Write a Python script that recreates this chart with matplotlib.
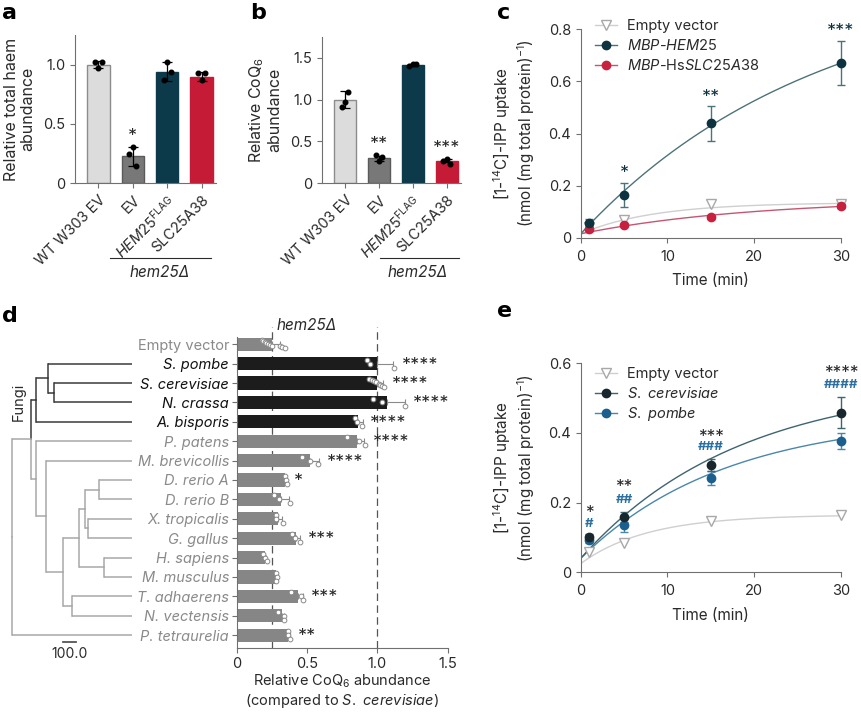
import numpy as np
import matplotlib
matplotlib.use('Agg')
import matplotlib.pyplot as plt
from matplotlib.lines import Line2D

plt.rcParams['font.family'] = ['Inter', 'DejaVu Sans']
plt.rcParams['mathtext.fontset'] = 'custom'
plt.rcParams['mathtext.rm'] = 'Inter'
plt.rcParams['mathtext.it'] = 'Inter:italic'
plt.rcParams['mathtext.bf'] = 'Inter:bold'
plt.rcParams['font.size'] = 10

# ---------------- data ----------------
# panel a: relative total haem
ab_labels = ['WT W303 EV', 'EV', r'$\mathit{HEM25}^{\mathrm{FLAG}}$', 'SLC25A38']
ab_colors = ['#dcdcdc', '#787878', '#0c3a4a', '#c61b36']
ab_edges = ['#8c8c8c', '#5a5a5a', '#0c3a4a', '#c61b36']
a_means = [1.00, 0.23, 0.94, 0.90]
a_err = [0.03, 0.08, 0.08, 0.04]
a_points = [[1.02, 0.97, 1.02], [0.25, 0.31, 0.15], [0.87, 1.02, 0.94], [0.93, 0.87, 0.93]]
a_stars = ['', '*', '', '']

# panel b: relative CoQ6
b_means = [1.00, 0.30, 1.41, 0.27]
b_err = [0.10, 0.03, 0.01, 0.02]
b_points = [[0.91, 0.97, 1.09], [0.34, 0.27, 0.31], [1.40, 1.42, 1.42], [0.27, 0.29, 0.23]]
b_stars = ['', '**', '', '***']

# panel c: IPP uptake (MBP fusions)
c_time = [1, 5, 15, 30]
c_empty = [0.042, 0.068, 0.129, 0.129]
c_hem = [0.058, 0.164, 0.440, 0.672]
c_hem_err = [0.015, 0.045, 0.067, 0.085]
c_slc = [0.032, 0.049, 0.078, 0.123]
c_slc_err = [0.005, 0.005, 0.006, 0.008]
c_stars = ['', '*', '**', '***']
c_star_y = [0, 0.248, 0.54, 0.79]
# one-phase association fits: y0, plateau, k
c_fit_y0 = [0.015, 0.015, 0.015]
c_fit_plateau = [0.135, 1.0, 0.15]
c_fit_k = [0.119, 0.0365, 0.05]

# panel e: IPP uptake (yeast orthologues)
e_time = [1, 5, 15, 30]
e_empty = [0.059, 0.085, 0.147, 0.164]
e_scer = [0.100, 0.158, 0.308, 0.458]
e_scer_err = [0.010, 0.014, 0.017, 0.045]
e_spom = [0.093, 0.135, 0.270, 0.377]
e_spom_err = [0.010, 0.020, 0.020, 0.024]
e_stars = ['*', '**', '***', '****']
e_hash = ['#', '##', '###', '####']
e_star_y = [0.168, 0.243, 0.388, 0.572]
e_hash_y = [0.140, 0.208, 0.360, 0.538]
e_fit_y0 = [0.025, 0.04, 0.04]
e_fit_plateau = [0.165, 0.55, 0.45]
e_fit_k = [0.13, 0.055, 0.06]

# panel d: CoQ6 rescue by orthologues
d_species = ['Empty vector', 'S. pombe', 'S. cerevisiae', 'N. crassa', 'A. bisporis',
             'P. patens', 'M. brevicollis', 'D. rerio A', 'D. rerio B', 'X. tropicalis',
             'G. gallus', 'H. sapiens', 'M. musculus', 'T. adhaerens', 'N. vectensis',
             'P. tetraurelia']
d_means = [0.25, 1.00, 1.00, 1.066, 0.865, 0.858, 0.524, 0.343, 0.315, 0.291,
           0.422, 0.201, 0.280, 0.438, 0.324, 0.367]
d_err = [0.06, 0.11, 0.04, 0.13, 0.03, 0.05, 0.06, 0.01, 0.06, 0.03,
         0.03, 0.01, 0.005, 0.03, 0.01, 0.01]
d_points = [
    [0.18, 0.19, 0.20, 0.21, 0.22, 0.24, 0.25, 0.31, 0.32, 0.34],
    [0.93, 0.95, 1.12],
    [0.94, 0.96, 0.98, 0.99, 1.01, 1.02, 1.03, 1.05],
    [0.97, 1.03, 1.20],
    [0.84, 0.855, 0.893],
    [0.785, 0.872, 0.913],
    [0.467, 0.524, 0.58],
    [0.343, 0.35, 0.355],
    [0.265, 0.303, 0.379],
    [0.277, 0.277, 0.327],
    [0.396, 0.415, 0.453],
    [0.19, 0.20, 0.213],
    [0.28, 0.287, 0.28],
    [0.389, 0.457, 0.472],
    [0.291, 0.334, 0.334],
    [0.362, 0.367, 0.379],
]
d_stars = ['', '****', '****', '****', '****', '****', '****', '*', '', '',
           '***', '', '', '***', '', '**']
fungi_rows = [1, 2, 3, 4]

# phylogeny (node depth, children); leaves are row indices
tree = (0, [
    (146, [
        (185, [(277, [1, (323, [2, 3])]), 4]),
        (185, [5, (262, [6, (392, [
            (515, [(562, [(669, [7, 8]), (585, [9, 10])]), (708, [11, 12])]),
            (462, [13, 14])])])]),
    ]),
    15,
])
leaf_depth = 923
scale_len = 100.0

# ---------------- layout helpers ----------------
W, H = 861, 715
fig = plt.figure(figsize=(W / 100, H / 100), dpi=100)

def px_axes(l, t, r, b):
    return fig.add_axes([l / W, 1 - b / H, (r - l) / W, (b - t) / H])

AX_COL = '#707070'
TXT = '#2a2a2a'

def style(ax):
    for s in ['top', 'right']:
        ax.spines[s].set_visible(False)
    for s in ['left', 'bottom']:
        ax.spines[s].set_color(AX_COL)
        ax.spines[s].set_linewidth(0.8)
    ax.tick_params(color=AX_COL, width=0.8, length=3.5, labelsize=10.5, labelcolor=TXT)

def panel_letter(x, y, s):
    fig.text(x / W, 1 - y / H, s, fontsize=16, fontweight='bold', va='center', ha='left',
             family='DejaVu Sans', color='black')

# ---------------- panels a, b ----------------
def bar_panel(ax, means, err, points, stars, ylim, yticks, yticklabels, ylabel):
    x = np.arange(len(means))
    ax.bar(x, means, width=0.65, color=ab_colors, edgecolor=ab_edges, linewidth=1, zorder=1)
    ax.errorbar(x, means, yerr=err, fmt='none', ecolor='black', elinewidth=0.9,
                capsize=3.5, capthick=0.9, zorder=3)
    jit = [-0.1, 0.0, 0.1]
    for i, pts in enumerate(points):
        ax.plot(x[i] + np.array(jit), pts, 'o', color='black', ms=3.3, zorder=4, clip_on=False)
        if stars[i]:
            ax.text(x[i], max(max(pts), means[i] + err[i]) + ylim[1] * 0.012, stars[i],
                    ha='center', va='bottom', fontsize=13, color=TXT)
    ax.set_xlim(-0.68, 3.42)
    ax.set_ylim(*ylim)
    ax.set_yticks(yticks)
    ax.set_yticklabels(yticklabels)
    ax.set_xticks(x)
    ax.set_xticklabels(ab_labels, rotation=45, ha='right', rotation_mode='anchor')
    ax.set_ylabel(ylabel, fontsize=11.5, color=TXT, labelpad=6, linespacing=1.1)
    style(ax)

ax_a = px_axes(75, 35, 216, 183.3)
bar_panel(ax_a, a_means, a_err, a_points, a_stars, (0, 1.25), [0, 0.5, 1.0],
          ['0', '0.5', '1.0'], 'Relative total haem\nabundance')
ax_b = px_axes(322, 36.7, 461, 183.3)
bar_panel(ax_b, b_means, b_err, b_points, b_stars, (0, 1.75), [0, 0.5, 1.0, 1.5],
          ['0', '0.5', '1.0', '1.5'], 'Relative CoQ$_6$\nabundance')

for x0, x1, xc in [(110, 211, 160), (380, 459, 418)]:
    fig.add_artist(Line2D([x0 / W, x1 / W], [1 - 258 / H, 1 - 258 / H], color=TXT, lw=0.8))
    fig.text(xc / W, 1 - 272 / H, 'hem25Δ', style='italic', ha='center', va='center',
             fontsize=11, color=TXT)

# ---------------- uptake panels c, e ----------------
t_fit = np.linspace(0, 30, 200)

def fit_curve(y0, plateau, k):
    return y0 + (plateau - y0) * (1 - np.exp(-k * t_fit))

def uptake_panel(ax, series, fits, ylim, yticks, yticklabels):
    for (t, y, err, mk, mfc, mec), (y0, p, k, lc) in zip(series, fits):
        ax.plot(t_fit, fit_curve(y0, p, k), color=lc, lw=1.0, zorder=2)
        if err is not None:
            ax.errorbar(t, y, yerr=err, fmt='none', ecolor=lc, elinewidth=1.0,
                        capsize=3, capthick=1.0, zorder=3, clip_on=False)
        ax.plot(t, y, mk, ms=6 if mk == 'o' else 6.5, mfc=mfc, mec=mec, mew=1.0,
                zorder=4, clip_on=False)
    ax.set_xlim(0, 30)
    ax.set_ylim(*ylim)
    ax.set_xticks([0, 10, 20, 30])
    ax.set_yticks(yticks)
    ax.set_yticklabels(yticklabels)
    ax.set_xlabel('Time (min)', fontsize=11, color=TXT, labelpad=7)
    ax.set_ylabel('[1-$^{14}$C]-IPP uptake\n(nmol (mg total protein)$^{-1}$)',
                  fontsize=11, color=TXT, labelpad=8, linespacing=1.15)
    style(ax)
    ax.tick_params(axis='x', pad=5)

GREY_M, GREY_L = '#a8a8a8', '#cfcfcf'
ax_c = px_axes(580.7, 29.3, 841, 237.7)
uptake_panel(
    ax_c,
    [(c_time, c_empty, None, 'v', 'white', GREY_M),
     (c_time, c_slc, c_slc_err, 'o', '#c8203f', '#c8203f'),
     (c_time, c_hem, c_hem_err, 'o', '#0d3340', '#0d3340')],
    [(c_fit_y0[0], c_fit_plateau[0], c_fit_k[0], GREY_L),
     (c_fit_y0[2], c_fit_plateau[2], c_fit_k[2], '#c65670'),
     (c_fit_y0[1], c_fit_plateau[1], c_fit_k[1], '#4d7378')],
    (0, 0.8), [0, 0.2, 0.4, 0.6, 0.8], ['0', '0.2', '0.4', '0.6', '0.8'])
for t, s, y in zip(c_time, c_stars, c_star_y):
    if s:
        ax_c.text(t, y, s, ha='center', va='center', fontsize=13, color='#0d3340')
c_handles = [
    Line2D([], [], color=GREY_L, marker='v', mfc='white', mec=GREY_M, ms=6.5, lw=1),
    Line2D([], [], color='#4d7378', marker='o', mfc='#0d3340', mec='#0d3340', ms=6, lw=1),
    Line2D([], [], color='#c65670', marker='o', mfc='#c8203f', mec='#c8203f', ms=6, lw=1),
]
c_leg_labels = ['Empty vector', r'$\mathit{MBP}$-$\mathit{HEM25}$', r'$\mathit{MBP}$-Hs$\mathit{SLC25A38}$']
ax_c.legend(c_handles, c_leg_labels, loc='upper left', bbox_to_anchor=(0.055, 1.05),
            frameon=False, fontsize=10.5, handlelength=1.5, handletextpad=0.7,
            labelspacing=0.35, borderpad=0, borderaxespad=0, labelcolor=TXT)

ax_e = px_axes(580.7, 363.3, 841, 572.3)
uptake_panel(
    ax_e,
    [(e_time, e_empty, None, 'v', 'white', GREY_M),
     (e_time, e_spom, e_spom_err, 'o', '#1b5f8e', '#1b5f8e'),
     (e_time, e_scer, e_scer_err, 'o', '#18272e', '#18272e')],
    [(e_fit_y0[0], e_fit_plateau[0], e_fit_k[0], GREY_L),
     (e_fit_y0[2], e_fit_plateau[2], e_fit_k[2], '#4a87aa'),
     (e_fit_y0[1], e_fit_plateau[1], e_fit_k[1], '#3f6470')],
    (0, 0.6), [0, 0.2, 0.4, 0.6], ['0', '0.2', '0.4', '0.6'])
for t, s, ys, h, yh in zip(e_time, e_stars, e_star_y, e_hash, e_hash_y):
    ax_e.text(t, ys, s, ha='center', va='center', fontsize=12.5, color=TXT, clip_on=False)
    ax_e.text(t, yh, h, ha='center', va='center', fontsize=9.5, color='#2a6fa0',
              fontweight='bold', clip_on=False)
e_handles = [
    Line2D([], [], color=GREY_L, marker='v', mfc='white', mec=GREY_M, ms=6.5, lw=1),
    Line2D([], [], color='#3f6470', marker='o', mfc='#18272e', mec='#18272e', ms=6, lw=1),
    Line2D([], [], color='#4a87aa', marker='o', mfc='#1b5f8e', mec='#1b5f8e', ms=6, lw=1),
]
e_leg_labels = ['Empty vector', r'$\mathit{S.\ cerevisiae}$', r'$\mathit{S.\ pombe}$']
ax_e.legend(e_handles, e_leg_labels, loc='upper left', bbox_to_anchor=(0.055, 0.98),
            frameon=False, fontsize=10.5, handlelength=1.5, handletextpad=0.7,
            labelspacing=0.3, borderpad=0, borderaxespad=0, labelcolor=TXT)

# ---------------- panel d ----------------
ROW_TOP, ROW_BOT = -0.4, 15.65
DARK, LIGHT = '#3a3a3a', '#a8a8a8'

# phylogenetic tree (drawn first, under the labels)
ax_t = px_axes(0, 336.5, 140, 647.7)
ax_t.set_ylim(ROW_BOT, ROW_TOP)
ax_t.set_xlim(-92, 985)
ax_t.axis('off')

def leaves(node):
    if isinstance(node, int):
        return [node]
    out = []
    for ch in node[1]:
        out += leaves(ch)
    return out

def draw(node):
    depth, children = node
    ys = []
    for ch in children:
        if isinstance(ch, int):
            y, d = ch, leaf_depth
        else:
            y, _ = draw(ch)
            d = ch[0]
        col = DARK if all(l in fungi_rows for l in leaves(ch)) else LIGHT
        ax_t.plot([depth, d], [y, y], color=col, lw=1.1, solid_capstyle='butt')
        ys.append((y, col))
    ym = np.mean([y for y, _ in ys])
    for y, col in ys:
        ax_t.plot([depth, depth], [ym, y], color=col, lw=1.1, solid_capstyle='projecting')
    return ym, depth

draw(tree)
ax_t.plot([392, 392 + scale_len], [15.35, 15.35], color='#555555', lw=1.3)
ax_t.text(392 + scale_len / 2, 15.95, f'{scale_len:.1f}', ha='center', va='center',
          fontsize=10, color=TXT)
ax_t.text(54, 2.97, 'Fungi', rotation=90, ha='center', va='center', fontsize=10.5, color=TXT)

ax_d = px_axes(236.7, 336.5, 447.6, 647.7)
rows = np.arange(len(d_species))
is_fungi = [r in fungi_rows for r in rows]
bar_cols = ['#1c1c1c' if f else '#868686' for f in is_fungi]
ax_d.barh(rows, d_means, height=0.68, color=bar_cols, zorder=2)
for v in [0.25, 1.0]:
    ax_d.axvline(v, ymin=0, ymax=1.03, color='#555555', lw=0.9, ls=(0, (6, 3.5)),
                 zorder=1, clip_on=False)
ax_d.errorbar(d_means, rows, xerr=[np.zeros(len(rows)), d_err], fmt='none',
              ecolor='#8a8a8a', elinewidth=0.8, capsize=2.5, capthick=0.8, zorder=3)
for r, pts in enumerate(d_points):
    yj = np.linspace(-0.2, 0.2, len(pts))
    ax_d.plot(pts, r + yj, 'o', ms=3.4, mfc='white', mec='#8a8a8a',
              mew=0.7, zorder=4, clip_on=False)
    if d_stars[r]:
        xs = max(max(pts), d_means[r] + d_err[r]) + 0.055
        ax_d.text(xs, r + 0.08, d_stars[r], ha='left', va='center', fontsize=13, color=TXT)
ax_d.set_ylim(ROW_BOT, ROW_TOP)
ax_d.set_xlim(0, 1.5)
ax_d.set_xticks([0, 0.5, 1.0, 1.5])
ax_d.set_xticklabels(['0', '0.5', '1.0', '1.5'])
ax_d.set_yticks(rows)
ax_d.set_yticklabels(d_species)
style(ax_d)
ax_d.tick_params(axis='y', labelsize=10.5, length=3.5, pad=2)
for r, lab in enumerate(ax_d.get_yticklabels()):
    lab.set_color('#111111' if is_fungi[r] else '#8a8a8a')
    if r > 0:
        lab.set_fontstyle('italic')
ax_d.set_xlabel('Relative CoQ$_6$ abundance\n(compared to $\\mathit{S.\\ cerevisiae}$)',
                fontsize=10.5, color=TXT, labelpad=1, linespacing=1.1)
ax_d.text(0.5, ROW_TOP - 0.55, 'hem25Δ', style='italic', ha='center', va='center',
          fontsize=11, color=TXT)

# panel letters
panel_letter(2, 13, 'a')
panel_letter(250, 13, 'b')
panel_letter(497, 13, 'c')
panel_letter(2, 316, 'd')
panel_letter(497, 311, 'e')

fig.savefig('out.png', dpi=100)
